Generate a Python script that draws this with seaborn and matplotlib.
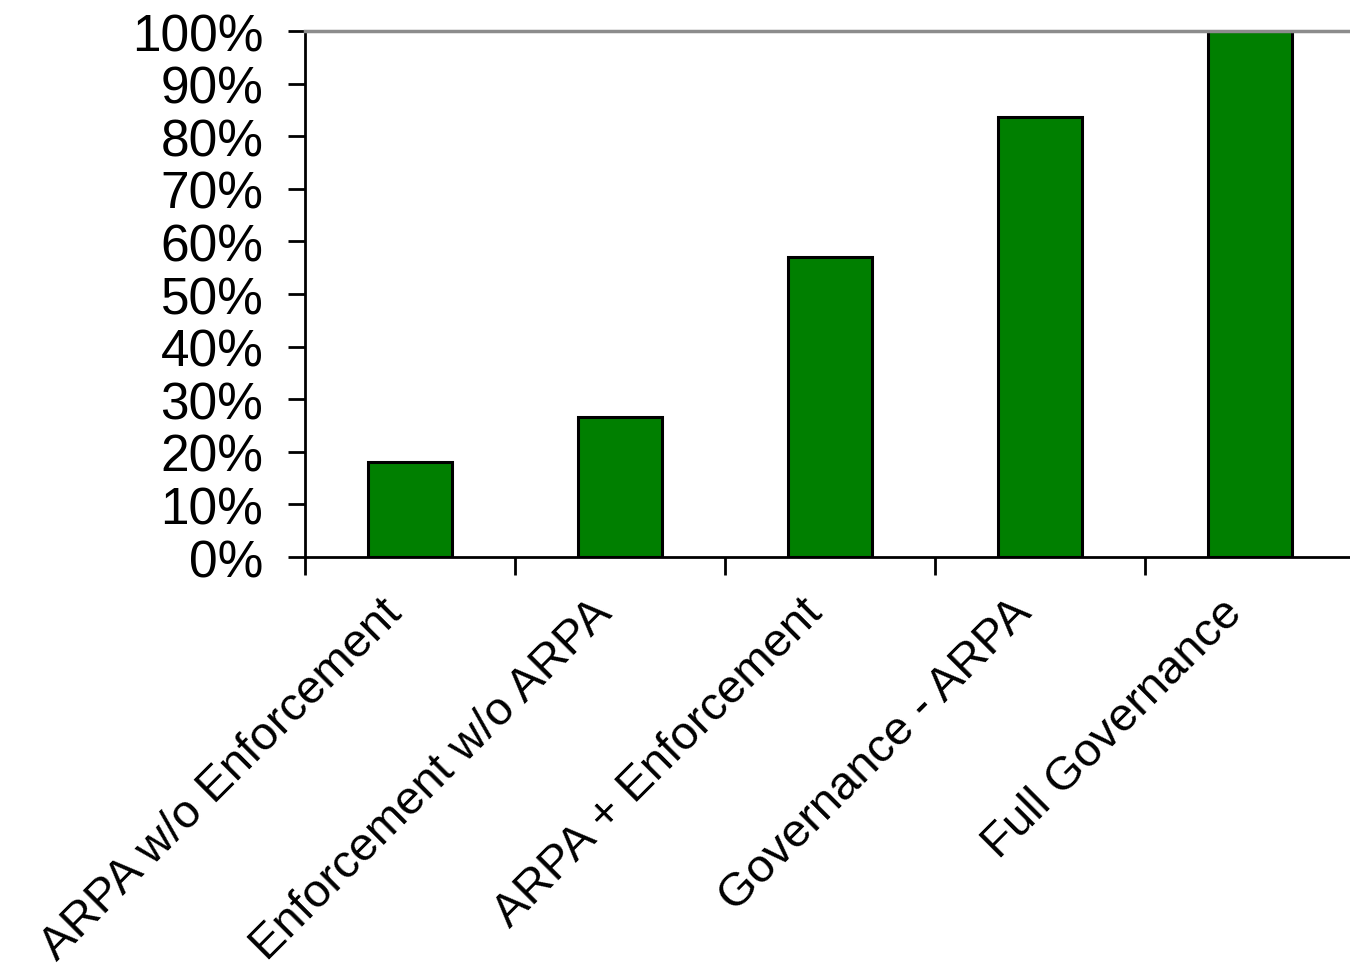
import matplotlib
matplotlib.use("Agg")
import matplotlib.pyplot as plt
import matplotlib.transforms as mtransforms
import seaborn as sns
import pandas as pd
from matplotlib.ticker import FixedLocator, PercentFormatter

categories = ["ARPA w/o Enforcement", "Enforcement w/o ARPA", "ARPA + Enforcement",
              "Governance - ARPA", "Full Governance"]
values = [18.0, 26.6, 57.0, 83.7, 100.0]
y_ticks = [0, 10, 20, 30, 40, 50, 60, 70, 80, 90, 100]

sns.set_style("white")
plt.rcParams["font.family"] = ["Liberation Sans", "DejaVu Sans"]
plt.rcParams["text.color"] = "black"

df = pd.DataFrame({"scenario": categories, "share": values})

fig = plt.figure(figsize=(13.5, 9.7), dpi=100)
ax = fig.add_axes([0.226, 0.4247, 0.778, 0.5423])

sns.barplot(data=df, x="scenario", y="share", color="#007F00", saturation=1,
            width=0.4, edgecolor="black", linewidth=2.2, ax=ax)

ax.set_xlim(-0.5, len(categories) - 0.5)
ax.set_ylim(0, 100)
ax.set_xlabel("")
ax.set_ylabel("")

ax.yaxis.set_major_locator(FixedLocator(y_ticks))
ax.yaxis.set_major_formatter(PercentFormatter(decimals=0))
ax.tick_params(axis="y", which="major", direction="out", length=12, width=2,
               color="black", labelcolor="black", labelsize=37, pad=18, left=True)

# category boundary ticks carry the marks; labels sit at the bar centres
ax.xaxis.set_major_locator(FixedLocator([i - 0.5 for i in range(len(categories))]))
ax.xaxis.set_minor_locator(FixedLocator(list(range(len(categories)))))
ax.set_xticklabels([], minor=False)
ax.set_xticklabels(categories, minor=True, rotation=45, ha="right", va="center",
                   rotation_mode="anchor")
ax.tick_params(axis="x", which="major", direction="out", length=13, width=2,
               color="black", bottom=True)
ax.tick_params(axis="x", which="minor", length=0, labelsize=34, pad=35,
               labelcolor="black")
shift = mtransforms.ScaledTranslation(-0.15, 0, fig.dpi_scale_trans)
for lbl in ax.get_xticklabels(minor=True):
    lbl.set_transform(lbl.get_transform() + shift)

for side in ["left", "bottom"]:
    ax.spines[side].set_color("black")
    ax.spines[side].set_linewidth(2)
ax.spines["top"].set_color("#8c8c8c")
ax.spines["top"].set_linewidth(2.5)
ax.spines["right"].set_visible(False)

fig.savefig("out.png", dpi=100)
